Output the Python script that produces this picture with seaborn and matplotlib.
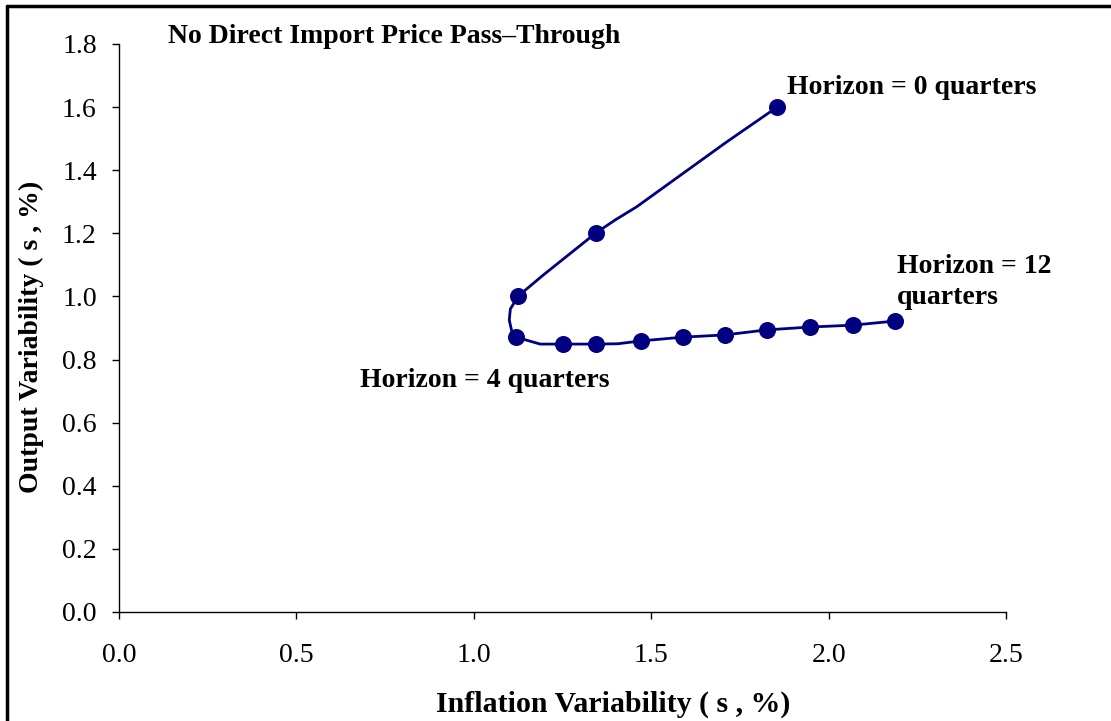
import matplotlib
matplotlib.use("Agg")
import matplotlib.pyplot as plt
import seaborn as sns
import pandas as pd
from matplotlib.lines import Line2D

# marked points, horizon 0..12 quarters
infl_pts = [1.855, 1.344, 1.125, 1.119, 1.251, 1.344, 1.471, 1.590, 1.708, 1.826, 1.948, 2.069, 2.187]
outp_pts = [1.600, 1.201, 1.001, 0.871, 0.849, 0.849, 0.859, 0.871, 0.878, 0.894, 0.903, 0.909, 0.922]

# vertices of the drawn line
infl_line = [1.855, 1.712, 1.459, 1.398, 1.344, 1.196, 1.125, 1.103, 1.100, 1.107, 1.119, 1.187,
             1.251, 1.344, 1.406, 1.471, 1.590, 1.708, 1.826, 1.948, 2.069, 2.187]
outp_line = [1.600, 1.489, 1.284, 1.242, 1.201, 1.068, 1.001, 0.960, 0.925, 0.890, 0.871, 0.849,
             0.849, 0.849, 0.850, 0.859, 0.871, 0.878, 0.894, 0.903, 0.909, 0.922]

title = "No Direct Import Price Pass\u2013Through"
xlabel = "Inflation Variability ( s , %)"
ylabel = "Output Variability ( s , %)"

sns.set_theme(style="white")
plt.rcParams["font.family"] = ["Liberation Serif", "DejaVu Serif"]
plt.rcParams["text.color"] = "black"
plt.rcParams["axes.labelcolor"] = "black"

navy = "#000080"
fig = plt.figure(figsize=(11.11, 7.21), dpi=100)
ax = fig.add_axes([0.1071, 0.1512, 0.7984, 0.7878])

line_df = pd.DataFrame({"x": infl_line, "y": outp_line})
pts_df = pd.DataFrame({"x": infl_pts, "y": outp_pts})
sns.lineplot(data=line_df, x="x", y="y", sort=False, estimator=None, color=navy, lw=2, ax=ax)
sns.scatterplot(data=pts_df, x="x", y="y", color=navy, s=150, edgecolor=navy, linewidth=0, zorder=3, ax=ax)

ax.set_xlim(0, 2.5)
ax.set_ylim(0, 1.8)
ax.set_xticks([0, 0.5, 1.0, 1.5, 2.0, 2.5])
ax.set_yticks([0, 0.2, 0.4, 0.6, 0.8, 1.0, 1.2, 1.4, 1.6, 1.8])
ax.set_xticklabels([f"{v:.1f}" for v in ax.get_xticks()])
ax.set_yticklabels([f"{v:.1f}" for v in ax.get_yticks()])
ax.tick_params(axis="both", labelsize=20, direction="out", length=5, width=1,
               color="black", bottom=True, left=True, labelcolor="black")
ax.tick_params(axis="y", pad=11)
ax.tick_params(axis="x", pad=17)
for s in ["top", "right"]:
    ax.spines[s].set_visible(False)
for s in ["left", "bottom"]:
    ax.spines[s].set_color("black")
    ax.spines[s].set_linewidth(1)

ax.set_xlabel(xlabel, fontsize=21.5, fontweight="bold")
ax.set_ylabel(ylabel, fontsize=20, fontweight="bold")
ax.xaxis.set_label_coords(0.557, -0.139)
ax.yaxis.set_label_coords(-0.0845, 0.484)

ax.text(0.138, 1.825, title, fontsize=20, fontweight="bold", va="center", ha="left")
ax.text(1.883, 1.663, "Horizon = 0 quarters", fontsize=20, fontweight="bold", va="center")
ax.text(2.193, 1.045, "Horizon = 12\nquarters", fontsize=20, fontweight="bold", va="center",
        linespacing=1.3)
ax.text(0.679, 0.732, "Horizon = 4 quarters", fontsize=20, fontweight="bold", va="center")

# frame: only left and top edges are visible in the crop
fig.add_artist(Line2D([7 / 1111, 7 / 1111], [0, 1 - 6 / 721], transform=fig.transFigure,
                      color="black", lw=2.5))
fig.add_artist(Line2D([7 / 1111, 1], [1 - 6 / 721, 1 - 6 / 721], transform=fig.transFigure,
                      color="black", lw=2.5))

fig.savefig("out.png", dpi=100)
